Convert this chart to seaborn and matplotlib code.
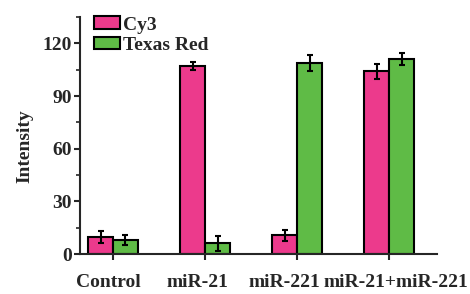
import numpy as np
import pandas as pd
import matplotlib
matplotlib.use("Agg")
import matplotlib.pyplot as plt
import matplotlib.transforms as mtransforms
import seaborn as sns
from matplotlib.ticker import MultipleLocator

groups = ["Control", "miR-21", "miR-221", "miR-21+miR-221"]
series = ["Cy3", "Texas Red"]
cy3 = [9.7, 107.0, 10.6, 104.0]
cy3_err = [3.5, 2.2, 3.0, 4.5]
texas = [8.0, 6.0, 108.8, 111.0]
texas_err = [2.8, 4.0, 4.8, 3.6]
colors = ["#EC3A8C", "#5FBB46"]

df = pd.DataFrame({
    "group": groups * 2,
    "dye": [series[0]] * 4 + [series[1]] * 4,
    "value": cy3 + texas,
})
errs = cy3_err + texas_err

sns.set_style("ticks")
plt.rcParams["font.family"] = ["Liberation Serif", "DejaVu Serif"]
plt.rcParams["font.weight"] = "bold"

fig = plt.figure(figsize=(4.7, 2.94), dpi=100)
ax = fig.add_axes([0.170, 0.136, 0.760, 0.806])

sns.barplot(data=df, x="group", y="value", hue="dye", order=groups,
            hue_order=series, palette=colors, width=0.54, errorbar=None,
            edgecolor="black", linewidth=1.5, saturation=1, ax=ax)

# error bars at bar centres
bars = ax.patches[:8]
for bar, v, e in zip(bars, df["value"], errs):
    xc = bar.get_x() + bar.get_width() / 2
    ax.errorbar(xc, v, yerr=e, fmt="none", ecolor="black",
                elinewidth=1.5, capsize=2.5, capthick=1.5, zorder=5)

ax.set_ylim(0, 135)
ax.set_xlim(-0.36, 3.52)
ax.yaxis.set_major_locator(MultipleLocator(30))
ax.yaxis.set_minor_locator(MultipleLocator(15))
ax.tick_params(axis="both", which="major", direction="out", length=4.5,
               width=1.5, labelsize=14, pad=1.5)
ax.tick_params(axis="y", which="minor", direction="out", length=3, width=1.2)
ax.tick_params(axis="x", pad=10)
for lab in ax.get_xticklabels() + ax.get_yticklabels():
    lab.set_fontweight("bold")
for s in ["left", "bottom"]:
    ax.spines[s].set_linewidth(1.5)
sns.despine(ax=ax)

# the labels in the original sit a little off their ticks
shifts = [-5, -7.5, -13, 7]  # pixels
for lab, dx in zip(ax.get_xticklabels(), shifts):
    off = mtransforms.ScaledTranslation(dx / 100, 0, fig.dpi_scale_trans)
    lab.set_transform(lab.get_transform() + off)

ax.set_xlabel("")
ax.set_ylabel("Intensity", fontsize=14, fontweight="bold", labelpad=6)
ax.yaxis.label.set_y(0.455)

leg = ax.legend(loc="upper left", bbox_to_anchor=(0.0, 1.06), frameon=False,
                prop={"size": 14, "weight": "bold"}, handlelength=1.35,
                handleheight=0.62, handletextpad=0.15, labelspacing=0.15,
                borderaxespad=0.3)

fig.savefig("out.png", dpi=100)
